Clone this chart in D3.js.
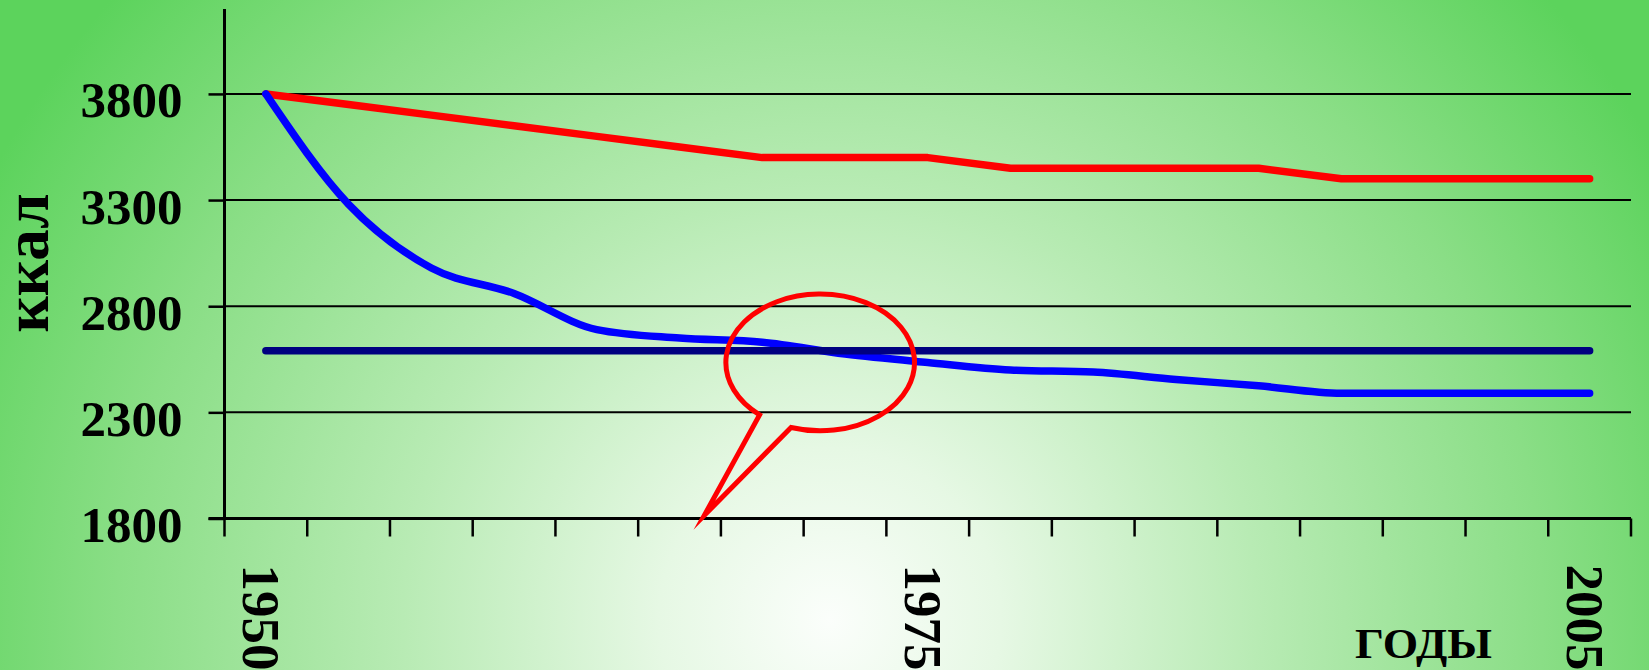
<!DOCTYPE html>
<html>
<head>
<meta charset="utf-8">
<script src="https://cdn.jsdelivr.net/npm/d3@7"></script>
<style>
  html, body { margin: 0; padding: 0; overflow: hidden; }
  svg { display: block; }
  text { font-family: "Liberation Serif", "Times New Roman", serif; font-weight: bold; fill: #000; }
</style>
</head>
<body>
<script>
// Category axis: one slot per period, only three of them carry a year label
const categories = ["1950", "", "", "", "", "", "", "", "1975", "", "", "", "", "", "", "", "2005"];

// Energy values, kcal
const seriesRed  = [3800, 3750, 3700, 3650, 3600, 3550, 3500, 3500, 3500, 3450, 3450, 3450, 3450, 3400, 3400, 3400, 3400];
const seriesBlue = [3800, 3280, 2980, 2860, 2690, 2650, 2630, 2575, 2535, 2500, 2490, 2455, 2425, 2390, 2390, 2390, 2390];
const seriesNorm = [2590, 2590, 2590, 2590, 2590, 2590, 2590, 2590, 2590, 2590, 2590, 2590, 2590, 2590, 2590, 2590, 2590];

// Value axis
const yDomain = [1800, 4200];
const yTicks = [1800, 2300, 2800, 3300, 3800];

// Oval callout around the crossing point, in category / kcal units
const calloutCenter = [6.7, 2535];
const calloutRadius = [1.14, 322];
const calloutTip = [5.3, 1815];
const calloutGapAngles = [108, 130]; // degrees, where the tail meets the oval

const W = 1649, H = 670;
const plot = { left: 224.5, right: 1631, top: 9, bottom: 518.5 };

const svg = d3.select("body").append("svg").attr("width", W).attr("height", H);

// Background: soft radial wash from white to green
const defs = svg.append("defs");
const grad = defs.append("radialGradient")
  .attr("id", "bg").attr("gradientUnits", "userSpaceOnUse")
  .attr("cx", 830).attr("cy", 620).attr("r", 950);
grad.append("stop").attr("offset", 0).attr("stop-color", "#fbfefb");
grad.append("stop").attr("offset", 0.18).attr("stop-color", "#e6f8e4");
grad.append("stop").attr("offset", 0.45).attr("stop-color", "#b8ebb4");
grad.append("stop").attr("offset", 0.75).attr("stop-color", "#8ade86");
grad.append("stop").attr("offset", 1).attr("stop-color", "#5cd35c");
svg.append("rect").attr("width", W).attr("height", H).attr("fill", "url(#bg)");

const x = d3.scaleBand().domain(d3.range(categories.length)).range([plot.left, plot.right]).padding(0);
const xAt = k => plot.left + (k + 0.5) * x.step();
const y = d3.scaleLinear().domain(yDomain).range([plot.bottom, plot.top]);

// Horizontal gridlines
svg.append("g").selectAll("line")
  .data(yTicks.filter(v => v !== yDomain[0]))
  .join("line")
  .attr("x1", plot.left).attr("x2", plot.right)
  .attr("y1", d => y(d)).attr("y2", d => y(d))
  .attr("stroke", "#000").attr("stroke-width", 2);

// Value axis with outward ticks
const yAxis = svg.append("g")
  .attr("transform", `translate(${plot.left},0)`)
  .call(d3.axisLeft(y).tickValues(yTicks).tickSize(16).tickPadding(26).tickFormat(d3.format("d")));
yAxis.select(".domain").remove();
yAxis.selectAll(".tick line").attr("stroke", "#000").attr("stroke-width", 2.5);
yAxis.selectAll(".tick text")
  .attr("dy", "0.45em")
  .style("font-size", "51px")
  .style("font-family", "\"Liberation Serif\", \"Times New Roman\", serif")
  .style("font-weight", "bold");

// Axis lines
svg.append("line")
  .attr("x1", plot.left).attr("x2", plot.left)
  .attr("y1", plot.top).attr("y2", plot.bottom)
  .attr("stroke", "#000").attr("stroke-width", 3);
svg.append("line")
  .attr("x1", plot.left - 16).attr("x2", plot.right)
  .attr("y1", plot.bottom).attr("y2", plot.bottom)
  .attr("stroke", "#000").attr("stroke-width", 3);

// Category ticks sit on the slot boundaries
const boundaries = d3.range(categories.length + 1).map(i => plot.left + i * x.step());
svg.append("g").selectAll("line")
  .data(boundaries)
  .join("line")
  .attr("x1", d => d).attr("x2", d => d)
  .attr("y1", plot.bottom).attr("y2", plot.bottom + 18)
  .attr("stroke", "#000").attr("stroke-width", 2.5);

// Year labels, rotated to read downwards
svg.append("g").selectAll("text")
  .data(categories.map((c, i) => ({ c, i })).filter(d => d.c !== ""))
  .join("text")
  .attr("transform", d => `translate(${x(d.i) + x.bandwidth() / 2 - 23},${plot.bottom + 46}) rotate(90)`)
  .attr("text-anchor", "start")
  .style("font-size", "53px")
  .text(d => d.c);

// Axis titles
svg.append("text")
  .attr("transform", `translate(48,263) rotate(-90)`)
  .attr("text-anchor", "middle")
  .style("font-size", "63px")
  .text("ккал");
svg.append("text")
  .attr("x", 1355).attr("y", 658)
  .attr("text-anchor", "start")
  .attr("textLength", 137)
  .attr("lengthAdjust", "spacingAndGlyphs")
  .style("font-size", "43px")
  .text("ГОДЫ");

// Series lines; the consumption curve is smoothed
const xMid = (d, i) => x(i) + x.bandwidth() / 2;
const straight = d3.line().x(xMid).y(d => y(d)).curve(d3.curveLinear);
const smooth = d3.line().x(xMid).y(d => y(d)).curve(d3.curveMonotoneX);
[[seriesRed, "#ff0000", straight], [seriesBlue, "#0000ff", smooth], [seriesNorm, "#000080", straight]]
  .forEach(([values, color, gen]) => {
    svg.append("path")
      .datum(values)
      .attr("d", gen)
      .attr("fill", "none")
      .attr("stroke", color)
      .attr("stroke-width", 7.5)
      .attr("stroke-linecap", "round")
      .attr("stroke-linejoin", "round");
  });

// Oval callout
const cx = xAt(calloutCenter[0]), cy = y(calloutCenter[1]);
const rx = calloutRadius[0] * x.step();
const ry = y(yDomain[0]) - y(yDomain[0] + calloutRadius[1]);
const onOval = a => [cx + rx * Math.cos(a * Math.PI / 180), cy + ry * Math.sin(a * Math.PI / 180)];
const pA = onOval(calloutGapAngles[1]);
const pB = onOval(calloutGapAngles[0]);
const tip = [xAt(calloutTip[0]), y(calloutTip[1])];
svg.append("path")
  .attr("d", `M${pA[0]},${pA[1]} A${rx},${ry} 0 1 1 ${pB[0]},${pB[1]} L${tip[0]},${tip[1]} Z`)
  .attr("fill", "none")
  .attr("stroke", "#ff0000")
  .attr("stroke-width", 5)
  .attr("stroke-linejoin", "miter")
  .attr("stroke-miterlimit", 20);
</script>
</body>
</html>
